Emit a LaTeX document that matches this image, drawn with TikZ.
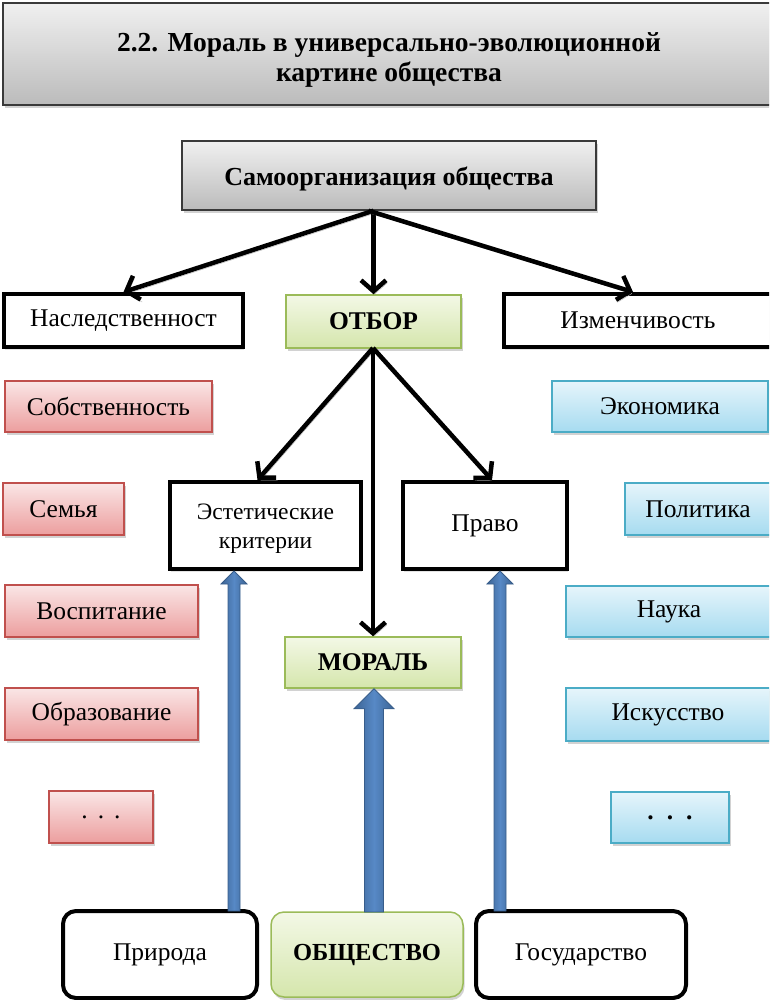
\documentclass[tikz,border=0pt]{standalone}
\usepackage{fontspec}
\setmainfont{Liberation Serif}
\usetikzlibrary{arrows.meta,shadows,calc}
\definecolor{redB}{HTML}{C0504D}\definecolor{redT}{HTML}{FAE6E6}\definecolor{redD}{HTML}{EC9E9E}
\definecolor{blueB}{HTML}{4BACC6}\definecolor{blueT}{HTML}{E6F5FB}\definecolor{blueD}{HTML}{A6DBF0}
\definecolor{greenB}{HTML}{9BBB59}\definecolor{greenT}{HTML}{F3F8E6}\definecolor{greenD}{HTML}{D5E6AC}
\definecolor{grayB}{HTML}{3A3A3A}\definecolor{grayT}{HTML}{F0F0F0}\definecolor{grayD}{HTML}{BBBBBB}
\definecolor{arrB}{HTML}{385D8A}\definecolor{arrF}{HTML}{4F81BD}\definecolor{arrL}{HTML}{5789C6}
\newcommand{\fatarrow}[5]{%
  \path[draw=arrB,line width=0.8pt,left color=arrB!80!arrF,right color=arrB!80!arrF,middle color=arrL]
    ($(#1)+(-#3,0)$) -- ($(#2)+(-#3,#5)$) -- ($(#2)+(-#4,#5)$) -- (#2) --
    ($(#2)+(#4,#5)$) -- ($(#2)+(#3,#5)$) -- ($(#1)+(#3,0)$) -- cycle;}
\tikzset{
  base/.style={rectangle,inner sep=0pt,align=center,font=\fontsize{25.5}{30}\selectfont},
  shad/.style={drop shadow={shadow xshift=1.5pt,shadow yshift=-3pt,fill=black!35}},
  redbox/.style={base,shad,draw=redB,line width=1.5pt,top color=redT,bottom color=redD},
  bluebox/.style={base,shad,draw=blueB,line width=1.5pt,top color=blueT,bottom color=blueD},
  greenbox/.style={base,shad,draw=greenB,line width=1.5pt,top color=greenT,bottom color=greenD,font=\fontsize{25.5}{30}\selectfont\bfseries},
  graybox/.style={base,shad,draw=grayB,line width=1.5pt,top color=grayT,bottom color=grayD,font=\fontsize{27.5}{30}\selectfont\bfseries},
  blackbox/.style={base,draw=black,line width=4pt,fill=white,drop shadow={shadow xshift=1pt,shadow yshift=-2.5pt,fill=black!22}},
  roundbox/.style={base,draw=black,line width=4pt,fill=white,rounded corners=13pt},
  bar/.style={line width=4.5pt,black,-{Straight Barb[length=11pt,width=25pt]},
    preaction={draw=black!30,transform canvas={shift={(1.5pt,-2.5pt)}}}},
}
\begin{document}
\begin{tikzpicture}[x=1pt,y=-1pt]
\path[use as bounding box] (0,0) rectangle (769,1000);
\clip (0,0) rectangle (769,1000);
% title and top
\node[graybox,minimum width=772pt,minimum height=102pt] (title) at (389,54) {\begin{tabular}{@{}c@{}}\rule{0pt}{34pt}2.2. Мораль в универсально-эволюционной\\картине общества\end{tabular}};
\node[graybox,font=\fontsize{26}{30}\selectfont\bfseries,minimum width=414pt,minimum height=69pt] (samo) at (389,175.5) {\rule{0pt}{26pt}Самоорганизация общества};
% row 1
\node[blackbox,minimum width=239pt,minimum height=53pt] (nasl) at (123.5,320.5) {Наследственност};
\node[greenbox,minimum width=175pt,minimum height=53pt] (otbor) at (373.5,321.5) {ОТБОР};
\node[blackbox,minimum width=268pt,minimum height=53pt] (izm) at (638,320.5) {Изменчивость};
% left column
\node[redbox,minimum width=207pt,minimum height=51pt] (sobst) at (108.5,406.5) {Собственность};
\node[redbox,minimum width=121pt,minimum height=52pt] (semya) at (63.5,509) {Семья};
\node[redbox,minimum width=193pt,minimum height=52pt] (vosp) at (101.5,611) {Воспитание};
\node[redbox,minimum width=193pt,minimum height=52pt] (obraz) at (101.5,714) {Образование};
\node[redbox,minimum width=104pt,minimum height=52pt] (dotsL) at (101,817) {.\hspace{10pt}.\hspace{10pt}.};
% right column
\node[bluebox,minimum width=216pt,minimum height=51pt] (econ) at (660,406.5) {Экономика};
\node[bluebox,minimum width=146pt,minimum height=52pt] (polit) at (698,509) {Политика};
\node[bluebox,minimum width=206pt,minimum height=51pt] (nauka) at (669,611.5) {Наука};
\node[bluebox,minimum width=204pt,minimum height=53pt] (iskus) at (668,714.5) {Искусство};
\node[bluebox,minimum width=118pt,minimum height=51pt] (dotsR) at (670,817.5) {\bfseries.\hspace{13pt}.\hspace{13pt}.};
% middle
\node[blackbox,minimum width=191pt,minimum height=87pt,font=\fontsize{23.5}{29}\selectfont] (est) at (265.5,525.5) {\begin{tabular}{@{}c@{}}\rule{0pt}{26.5pt}Эстетические\\критерии\end{tabular}};
\node[blackbox,minimum width=164pt,minimum height=87pt] (pravo) at (485,525.5) {Право};
\node[greenbox,minimum width=176pt,minimum height=51pt] (moral) at (373,662.5) {МОРАЛЬ};
% bottom
\node[roundbox,minimum width=194pt,minimum height=87pt] (prir) at (160,954.5) {Природа};
\node[greenbox,font=\fontsize{24.5}{30}\selectfont\bfseries,rounded corners=13pt,minimum width=192pt,minimum height=85pt] (obsh) at (367,954.5) {ОБЩЕСТВО};
\node[roundbox,minimum width=210pt,minimum height=87pt] (gos) at (581,954.5) {Государство};
% black arrows
\coordinate (s0) at (otbor.north |- samo.south);
\draw[bar] (s0) -- (nasl.north);
\draw[bar] (s0) -- (otbor.north);
\draw[bar] ([xshift=-5pt]s0) -- ([xshift=-5pt]izm.north);
\coordinate (o0) at (373,348);
\coordinate (estT) at ([xshift=-8pt]est.north);
\coordinate (pravoT) at ([xshift=7pt]pravo.north);
\draw[bar] (o0) -- (estT);
\draw[bar] (o0) -- (pravoT);
\draw[bar] (o0) -- (moral.north);
% blue arrows
\coordinate (b1) at (234,911);
\coordinate (b1t) at (b1 |- est.south);
\coordinate (b2) at (374,912);
\coordinate (b2t) at (b2 |- moral.south);
\coordinate (b3) at (500,911);
\coordinate (b3t) at (b3 |- pravo.south);
\fatarrow{b1}{b1t}{6}{13}{13}
\fatarrow{b2}{b2t}{9.5}{20}{20}
\fatarrow{b3}{b3t}{6}{13}{13}
\end{tikzpicture}
\end{document}
